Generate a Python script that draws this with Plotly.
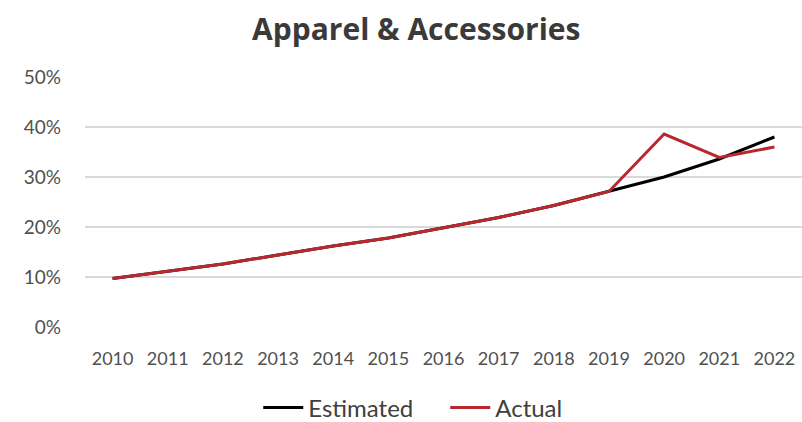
import plotly.graph_objects as go

years = ["2010", "2011", "2012", "2013", "2014", "2015", "2016",
         "2017", "2018", "2019", "2020", "2021", "2022"]
estimated = [9.7, 11.2, 12.6, 14.4, 16.2, 17.8, 19.9, 21.9, 24.3, 27.1, 30.0, 33.6, 38.0]
actual = [9.7, 11.2, 12.6, 14.4, 16.2, 17.8, 19.9, 21.9, 24.3, 27.1, 38.6, 33.9, 36.0]
y_ticks = [0, 10, 20, 30, 40, 50]
y_tick_labels = ["0%", "10%", "20%", "30%", "40%", "50%"]

font_family = "Lato, 'Open Sans', sans-serif"

fig = go.Figure()
fig.add_trace(go.Scatter(x=years, y=estimated, mode="lines", name="Estimated",
                         line=dict(color="#000000", width=3)))
fig.add_trace(go.Scatter(x=years, y=actual, mode="lines", name="Actual",
                         line=dict(color="#B8282E", width=3)))

fig.update_layout(
    width=802, height=422,
    paper_bgcolor="white", plot_bgcolor="white",
    margin=dict(l=85, r=0, t=77, b=95, autoexpand=False),
    title=dict(text="<b>Apparel &amp; Accessories</b>", x=0.519, xanchor="center",
               y=0.93, yanchor="middle", yref="container",
               font=dict(family="'Open Sans', sans-serif", size=30, color="#3A3A3A")),
    font=dict(family=font_family, size=18, color="#505050"),
    showlegend=True,
    legend=dict(orientation="h", xref="container", x=0.322, xanchor="left",
                y=-0.324, yanchor="middle", entrywidth=132, entrywidthmode="pixels",
                font=dict(size=24, color="#404040"), itemwidth=40, tracegroupgap=0),
    xaxis=dict(type="category", range=[-0.5, 12.5], showgrid=False, showline=False,
               automargin=False, ticks="", tickfont=dict(size=18, color="#505050"),
               ticklabelstandoff=19),
    yaxis=dict(range=[0, 50], tickvals=y_ticks, ticktext=y_tick_labels, showgrid=True,
               automargin=False, gridcolor="#D9D9D9", gridwidth=1.5, zeroline=False,
               showline=False, tickfont=dict(size=19, color="#505050"),
               ticklabelstandoff=23),
)

fig.write_html("out.html", config={"displayModeBar": False},
               post_script="document.body.style.margin='0';")
